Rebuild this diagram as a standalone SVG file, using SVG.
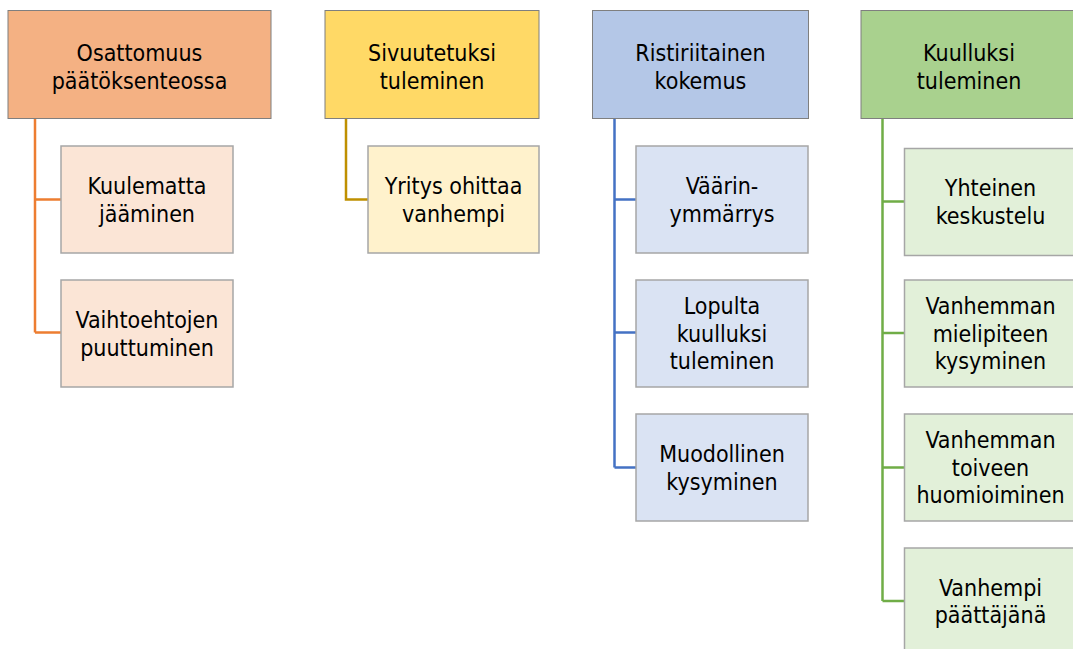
<svg xmlns="http://www.w3.org/2000/svg" width="1073" height="649" viewBox="0 0 1073 649">
<style>
text{font-family:'DejaVu Sans Condensed','DejaVu Sans',sans-serif;font-size:23px;fill:#000;text-anchor:middle}
.hd{stroke:#7f7f7f;stroke-width:1}
.ch{stroke:#a6a6a6;stroke-width:1.5}
.c{fill:none;stroke-width:2.5}
</style>
<rect width="1073" height="649" fill="#fff"/>
<g id="connectors">
<path class="c" stroke="#ed7d31" d="M35 118V332.5M35 199.5H61M35 332.5H61"/>
<path class="c" stroke="#bf9000" d="M346 118V199.5H368"/>
<path class="c" stroke="#4472c4" d="M614.5 118V467.5M614.5 199.5H636M614.5 332.5H636M614.5 467.5H636"/>
<path class="c" stroke="#70ad47" d="M882.5 118V601M882.5 201.5H904M882.5 333H904M882.5 467.5H904M882.5 601H904"/>
</g>
<g id="h1"><rect class="hd" x="8" y="10.5" width="263" height="108" fill="#f4b183"/><text x="139.5" y="60.5">Osattomuus</text><text x="139.5" y="88.5">päätöksenteossa</text></g>
<g id="h2"><rect class="hd" x="325" y="10.5" width="214" height="108" fill="#ffd966"/><text x="432" y="60.5">Sivuutetuksi</text><text x="432" y="88.5">tuleminen</text></g>
<g id="h3"><rect class="hd" x="592.5" y="10.5" width="216" height="108" fill="#b4c7e7"/><text x="700.5" y="60.5">Ristiriitainen</text><text x="700.5" y="88.5">kokemus</text></g>
<g id="h4"><rect class="hd" x="861" y="10.5" width="216" height="108" fill="#a9d18e"/><text x="969" y="60.5">Kuulluksi</text><text x="969" y="88.5">tuleminen</text></g>
<g id="c1a"><rect class="ch" x="61" y="146" width="172" height="107" fill="#fbe5d6"/><text x="147" y="194">Kuulematta</text><text x="147" y="221.5">jääminen</text></g>
<g id="c1b"><rect class="ch" x="61" y="280" width="172" height="107" fill="#fbe5d6"/><text x="147" y="328">Vaihtoehtojen</text><text x="147" y="355.5">puuttuminen</text></g>
<g id="c2a"><rect class="ch" x="368" y="146" width="171" height="107" fill="#fff2cc"/><text x="453.5" y="194">Yritys ohittaa</text><text x="453.5" y="221.5">vanhempi</text></g>
<g id="c3a"><rect class="ch" x="636" y="146" width="172" height="107" fill="#dae3f3"/><text x="722" y="194">Väärin-</text><text x="722" y="221.5">ymmärrys</text></g>
<g id="c3b"><rect class="ch" x="636" y="280" width="172" height="107" fill="#dae3f3"/><text x="722" y="314">Lopulta</text><text x="722" y="341.5">kuulluksi</text><text x="722" y="369">tuleminen</text></g>
<g id="c3c"><rect class="ch" x="636" y="414" width="172" height="107" fill="#dae3f3"/><text x="722" y="462">Muodollinen</text><text x="722" y="489.5">kysyminen</text></g>
<g id="c4a"><rect class="ch" x="904.5" y="148.5" width="172" height="107" fill="#e2f0d9"/><text x="990.5" y="196">Yhteinen</text><text x="990.5" y="223.5">keskustelu</text></g>
<g id="c4b"><rect class="ch" x="904.5" y="280" width="172" height="107" fill="#e2f0d9"/><text x="990.5" y="314">Vanhemman</text><text x="990.5" y="341.5">mielipiteen</text><text x="990.5" y="369">kysyminen</text></g>
<g id="c4c"><rect class="ch" x="904.5" y="414" width="172" height="107" fill="#e2f0d9"/><text x="990.5" y="448">Vanhemman</text><text x="990.5" y="475.5">toiveen</text><text x="990.5" y="503">huomioiminen</text></g>
<g id="c4d"><rect class="ch" x="904.5" y="548" width="172" height="107" fill="#e2f0d9"/><text x="990.5" y="595.5">Vanhempi</text><text x="990.5" y="623">päättäjänä</text></g>
</svg>
